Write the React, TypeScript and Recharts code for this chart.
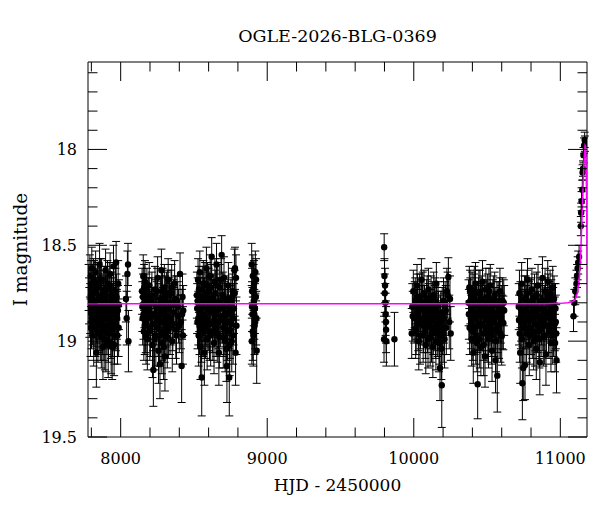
import { ErrorBar, ReferenceArea, Scatter, ScatterChart, XAxis, YAxis } from 'recharts';

// OGLE I-band photometry: [HJD - 2450000, I mag, error].
type Obs = [number, number, number];

const SEASON_1: Obs[] = [
  [7781, 18.72, 0.12], [7784, 18.79, 0.12], [7786, 18.85, 0.13], [7790, 18.66, 0.11],
  [7792, 18.83, 0.13], [7794, 18.93, 0.15], [7797, 18.7, 0.12], [7799, 18.78, 0.12],
  [7801, 18.9, 0.14], [7803, 18.62, 0.11], [7805, 18.76, 0.12], [7807, 18.88, 0.14],
  [7810, 18.84, 0.13], [7812, 18.75, 0.12], [7814, 18.68, 0.11], [7816, 18.97, 0.16],
  [7818, 18.89, 0.14], [7820, 18.69, 0.11], [7823, 18.74, 0.12], [7825, 18.82, 0.13],
  [7827, 18.93, 0.15], [7829, 18.64, 0.11], [7831, 18.8, 0.13], [7834, 19.06, 0.18],
  [7836, 18.87, 0.14], [7838, 18.79, 0.12], [7841, 18.72, 0.12], [7843, 18.91, 0.15],
  [7845, 18.96, 0.15], [7847, 18.71, 0.12], [7850, 18.78, 0.12], [7852, 18.86, 0.13],
  [7854, 18.91, 0.14], [7856, 18.6, 0.11], [7858, 18.83, 0.13], [7861, 18.95, 0.15],
  [7863, 18.69, 0.12], [7865, 18.77, 0.12], [7868, 18.98, 0.16], [7870, 18.68, 0.11],
  [7872, 18.8, 0.13], [7874, 18.89, 0.14], [7877, 18.92, 0.15], [7879, 19.03, 0.17],
  [7881, 18.75, 0.12], [7883, 18.81, 0.13], [7886, 18.95, 0.15], [7888, 18.73, 0.12],
  [7890, 18.85, 0.13], [7892, 18.99, 0.16], [7895, 18.78, 0.12], [7897, 18.63, 0.11],
  [7899, 19.0, 0.16], [7901, 18.84, 0.13], [7904, 18.73, 0.12], [7906, 18.92, 0.15],
  [7908, 18.88, 0.14], [7910, 18.7, 0.12], [7913, 18.82, 0.13], [7915, 19.02, 0.17],
  [7917, 18.96, 0.15], [7919, 18.8, 0.13], [7922, 18.71, 0.12], [7924, 18.87, 0.14],
  [7926, 18.9, 0.14], [7928, 18.65, 0.11], [7931, 18.84, 0.13], [7933, 18.94, 0.15],
  [7935, 19.01, 0.16], [7937, 18.76, 0.12], [7940, 18.79, 0.12], [7942, 19.03, 0.17],
  [7944, 18.93, 0.15], [7946, 18.83, 0.13], [7949, 18.86, 0.13], [7951, 18.61, 0.11],
  [7953, 18.74, 0.12], [7955, 19.02, 0.16], [7958, 18.97, 0.15], [7960, 18.9, 0.14],
  [7962, 18.82, 0.13], [7964, 18.74, 0.12], [7967, 18.91, 0.14], [7969, 18.59, 0.11],
  [7971, 18.77, 0.12], [7974, 18.86, 0.13], [7976, 18.88, 0.14], [7978, 18.97, 0.15],
  [7981, 18.84, 0.13], [7983, 18.7, 0.12], [7986, 18.93, 0.15], [7988, 18.81, 0.13],
  [8036, 18.78, 0.12], [8041, 18.88, 0.14], [8046, 18.65, 0.12], [8050, 18.6, 0.11],
  [8053, 19.0, 0.16],
];

const SEASON_2: Obs[] = [
  [8146, 18.74, 0.12], [8148, 18.82, 0.13], [8150, 18.88, 0.14], [8152, 18.77, 0.12],
  [8154, 18.66, 0.11], [8156, 18.86, 0.13], [8158, 18.95, 0.15], [8160, 18.72, 0.12],
  [8162, 18.8, 0.13], [8164, 18.92, 0.15], [8166, 18.69, 0.11], [8168, 18.83, 0.13],
  [8171, 18.91, 0.15], [8173, 18.97, 0.15], [8176, 18.77, 0.12], [8179, 18.74, 0.12],
  [8182, 18.99, 0.16], [8185, 18.88, 0.14], [8188, 18.84, 0.13], [8191, 18.8, 0.13],
  [8195, 18.71, 0.12], [8199, 18.95, 0.15], [8203, 18.93, 0.15], [8206, 18.86, 0.13],
  [8210, 18.79, 0.12], [8213, 18.76, 0.12], [8217, 19.02, 0.17], [8220, 18.91, 0.14],
  [8223, 19.15, 0.19], [8228, 18.86, 0.14], [8231, 18.99, 0.16], [8234, 18.73, 0.12],
  [8237, 18.81, 0.13], [8240, 18.97, 0.16], [8243, 18.88, 0.14], [8246, 18.82, 0.13],
  [8249, 18.74, 0.12], [8252, 18.67, 0.11], [8255, 18.93, 0.15], [8258, 19.05, 0.17],
  [8261, 18.83, 0.13], [8263, 18.9, 0.14], [8266, 18.97, 0.16], [8268, 19.12, 0.18],
  [8271, 18.86, 0.13], [8273, 18.78, 0.12], [8276, 18.8, 0.13], [8278, 18.63, 0.11],
  [8281, 19.01, 0.16], [8283, 18.95, 0.15], [8286, 18.74, 0.12], [8288, 18.85, 0.13],
  [8291, 18.9, 0.14], [8293, 19.03, 0.17], [8296, 18.84, 0.13], [8298, 18.72, 0.12],
  [8300, 18.96, 0.15], [8302, 19.08, 0.18], [8305, 18.78, 0.12], [8307, 18.89, 0.14],
  [8310, 18.92, 0.15], [8312, 18.76, 0.12], [8315, 18.87, 0.13], [8318, 18.98, 0.16],
  [8321, 18.75, 0.12], [8324, 18.68, 0.11], [8327, 18.94, 0.15], [8330, 18.83, 0.13],
  [8334, 18.8, 0.13], [8337, 18.92, 0.15], [8341, 18.88, 0.14], [8344, 18.75, 0.12],
  [8348, 18.72, 0.12], [8352, 19.0, 0.16], [8356, 18.91, 0.14], [8360, 18.81, 0.13],
  [8364, 18.85, 0.13], [8368, 18.7, 0.12], [8372, 18.78, 0.12], [8376, 18.94, 0.15],
  [8381, 18.97, 0.15], [8385, 18.79, 0.13], [8390, 18.82, 0.13], [8394, 18.87, 0.14],
  [8400, 18.92, 0.14], [8405, 18.65, 0.11], [8411, 18.9, 0.14], [8416, 19.13, 0.19],
  [8419, 18.86, 0.13], [8422, 18.77, 0.12], [8425, 18.97, 0.15], [8427, 18.84, 0.13],
];

const SEASON_3: Obs[] = [
  [8520, 18.76, 0.12], [8522, 18.83, 0.13], [8524, 18.9, 0.14], [8526, 18.79, 0.12],
  [8528, 18.68, 0.11], [8530, 18.88, 0.14], [8532, 18.97, 0.16], [8534, 18.73, 0.12],
  [8536, 18.82, 0.13], [8538, 18.92, 0.15], [8540, 18.64, 0.11], [8542, 18.85, 0.13],
  [8544, 19.03, 0.17], [8547, 18.77, 0.12], [8549, 18.86, 0.14], [8551, 18.96, 0.15],
  [8553, 19.19, 0.2], [8555, 18.82, 0.13], [8557, 18.73, 0.12], [8560, 18.9, 0.14],
  [8562, 18.93, 0.15], [8564, 18.7, 0.12], [8566, 18.79, 0.12], [8568, 18.87, 0.13],
  [8571, 19.06, 0.17], [8573, 18.8, 0.13], [8575, 18.7, 0.11], [8578, 18.94, 0.15],
  [8580, 18.88, 0.14], [8583, 18.76, 0.12], [8585, 18.62, 0.11], [8588, 18.89, 0.14],
  [8590, 18.99, 0.16], [8593, 18.71, 0.12], [8595, 18.84, 0.13], [8598, 18.91, 0.14],
  [8600, 18.74, 0.12], [8603, 18.83, 0.13], [8606, 18.95, 0.15], [8608, 18.78, 0.12],
  [8611, 18.66, 0.11], [8614, 18.97, 0.16], [8616, 18.81, 0.13], [8619, 18.72, 0.12],
  [8621, 18.56, 0.1], [8624, 18.85, 0.13], [8626, 18.91, 0.15], [8629, 18.95, 0.15],
  [8632, 18.77, 0.12], [8634, 18.81, 0.13], [8637, 19.01, 0.16], [8640, 18.89, 0.14],
  [8643, 18.69, 0.12], [8646, 18.75, 0.12], [8648, 18.86, 0.14], [8651, 18.93, 0.15],
  [8654, 18.6, 0.11], [8657, 18.84, 0.13], [8659, 18.96, 0.15], [8662, 18.71, 0.12],
  [8665, 18.8, 0.13], [8668, 18.9, 0.14], [8670, 19.06, 0.17], [8673, 18.98, 0.16],
  [8676, 18.72, 0.12], [8679, 18.8, 0.13], [8682, 18.89, 0.14], [8685, 18.68, 0.11],
  [8689, 18.55, 0.1], [8691, 18.87, 0.14], [8694, 18.83, 0.13], [8697, 18.76, 0.12],
  [8700, 18.98, 0.16], [8703, 18.93, 0.15], [8705, 18.67, 0.11], [8708, 18.82, 0.13],
  [8711, 18.92, 0.15], [8713, 19.0, 0.16], [8716, 18.78, 0.12], [8719, 18.86, 0.13],
  [8721, 19.04, 0.17], [8725, 19.13, 0.19], [8728, 18.95, 0.15], [8730, 18.85, 0.14],
  [8733, 18.79, 0.12], [8735, 18.71, 0.12], [8738, 18.9, 0.14], [8741, 19.19, 0.2],
  [8744, 19.02, 0.16], [8746, 18.94, 0.15], [8749, 18.84, 0.13], [8752, 18.81, 0.13],
  [8755, 18.91, 0.14], [8758, 19.0, 0.16], [8761, 18.77, 0.12], [8764, 18.74, 0.12],
  [8767, 18.97, 0.15], [8770, 18.88, 0.14], [8773, 18.83, 0.13], [8776, 18.63, 0.11],
  [8778, 18.75, 0.12], [8780, 18.62, 0.11], [8784, 19.06, 0.17], [8787, 18.67, 0.12],
  [8790, 18.92, 0.15],
];

const SEASON_4: Obs[] = [
  [8894, 18.6, 0.11], [8895, 19.0, 0.12], [8896, 18.82, 0.13], [8897, 18.74, 0.12],
  [8899, 18.86, 0.14], [8901, 18.95, 0.15], [8902, 18.66, 0.11], [8905, 18.97, 0.16],
  [8907, 18.72, 0.12], [8908, 18.79, 0.13], [8910, 18.7, 0.12], [8912, 18.86, 0.13],
  [8913, 18.92, 0.15], [8916, 18.83, 0.13], [8918, 18.9, 0.14], [8919, 18.64, 0.11],
  [8922, 18.77, 0.12], [8924, 18.68, 0.11], [8925, 18.88, 0.14], [8928, 19.05, 0.17],
];

const SEASON_5: Obs[] = [
  [9797, 18.99, 0.12], [9798, 18.51, 0.07], [9800, 18.66, 0.09], [9802, 18.75, 0.1],
  [9804, 18.71, 0.09], [9806, 18.8, 0.1], [9808, 18.86, 0.11], [9810, 18.9, 0.11],
  [9811, 18.94, 0.12], [9813, 19.0, 0.13], [9868, 18.99, 0.14],
];

const SEASON_6: Obs[] = [
  [9986, 18.96, 0.13], [9990, 18.82, 0.12], [9993, 18.87, 0.13], [9997, 18.74, 0.11],
  [10003, 18.88, 0.13], [10006, 18.81, 0.12], [10010, 18.79, 0.12], [10013, 18.95, 0.14],
  [10016, 18.93, 0.14], [10019, 18.86, 0.13], [10022, 18.71, 0.11], [10025, 18.77, 0.12],
  [10028, 18.85, 0.12], [10031, 18.91, 0.14], [10034, 19.0, 0.15], [10037, 18.83, 0.12],
  [10040, 18.77, 0.12], [10043, 18.97, 0.15], [10046, 18.9, 0.14], [10049, 18.8, 0.12],
  [10052, 18.68, 0.11], [10055, 18.89, 0.13], [10058, 18.83, 0.12], [10061, 18.76, 0.12],
  [10064, 18.97, 0.14], [10067, 18.92, 0.14], [10070, 18.75, 0.12], [10073, 18.84, 0.13],
  [10076, 18.87, 0.13], [10079, 18.95, 0.14], [10082, 19.02, 0.15], [10085, 18.88, 0.13],
  [10088, 18.8, 0.12], [10091, 18.78, 0.12], [10094, 18.92, 0.14], [10097, 18.99, 0.15],
  [10100, 18.73, 0.11], [10103, 18.82, 0.12], [10106, 18.86, 0.13], [10109, 18.9, 0.14],
  [10112, 18.98, 0.15], [10115, 18.86, 0.13], [10118, 18.78, 0.12], [10121, 18.96, 0.15],
  [10124, 18.89, 0.13], [10127, 18.81, 0.12], [10130, 19.03, 0.16], [10133, 18.93, 0.14],
  [10136, 18.76, 0.12], [10139, 18.88, 0.13], [10142, 18.84, 0.13], [10145, 18.79, 0.12],
  [10148, 18.95, 0.14], [10151, 19.0, 0.15], [10154, 18.7, 0.11], [10157, 18.85, 0.13],
  [10160, 18.91, 0.14], [10163, 18.94, 0.14], [10166, 18.81, 0.12], [10169, 18.87, 0.13],
  [10172, 19.01, 0.15], [10175, 18.97, 0.15], [10179, 19.14, 0.17], [10182, 18.9, 0.14],
  [10185, 18.87, 0.13], [10188, 19.04, 0.16], [10191, 19.23, 0.22], [10194, 18.85, 0.13],
  [10197, 18.93, 0.14], [10200, 18.96, 0.15], [10203, 18.79, 0.12], [10206, 18.88, 0.13],
  [10210, 18.99, 0.15], [10214, 18.81, 0.12], [10218, 18.84, 0.13], [10222, 18.93, 0.14],
  [10226, 18.74, 0.12], [10231, 18.76, 0.12], [10236, 18.665, 0.1], [10242, 18.9, 0.14],
  [10247, 18.78, 0.12], [10252, 18.96, 0.14],
];

const SEASON_7: Obs[] = [
  [10374, 18.8, 0.12], [10376, 18.86, 0.13], [10379, 18.72, 0.11], [10381, 18.93, 0.14],
  [10384, 18.74, 0.11], [10386, 18.79, 0.12], [10389, 18.88, 0.13], [10392, 18.9, 0.14],
  [10395, 18.99, 0.14], [10398, 18.76, 0.12], [10400, 18.83, 0.12], [10403, 18.95, 0.15],
  [10406, 19.06, 0.16], [10408, 18.85, 0.13], [10411, 18.77, 0.12], [10413, 18.73, 0.12],
  [10416, 18.93, 0.14], [10418, 18.88, 0.13], [10421, 18.7, 0.11], [10423, 18.97, 0.15],
  [10426, 18.86, 0.13], [10429, 18.81, 0.12], [10431, 19.01, 0.15], [10434, 18.92, 0.14],
  [10436, 19.225, 0.18], [10439, 18.86, 0.13], [10441, 18.79, 0.12], [10444, 18.75, 0.12],
  [10447, 18.91, 0.14], [10450, 18.99, 0.15], [10452, 18.75, 0.12], [10455, 18.83, 0.13],
  [10458, 19.03, 0.15], [10461, 18.91, 0.14], [10463, 18.84, 0.13], [10466, 18.78, 0.12],
  [10469, 18.69, 0.11], [10472, 18.87, 0.13], [10474, 18.96, 0.14], [10477, 19.02, 0.16],
  [10480, 18.81, 0.12], [10483, 18.84, 0.13], [10486, 19.08, 0.16], [10489, 18.93, 0.14],
  [10492, 18.73, 0.11], [10495, 18.8, 0.12], [10498, 18.89, 0.13], [10501, 18.96, 0.15],
  [10504, 18.77, 0.12], [10507, 18.86, 0.13], [10510, 18.99, 0.15], [10513, 18.74, 0.12],
  [10516, 18.85, 0.13], [10519, 18.91, 0.14], [10522, 18.71, 0.11], [10525, 18.83, 0.13],
  [10528, 18.94, 0.14], [10531, 18.97, 0.15], [10534, 19.05, 0.16], [10537, 18.88, 0.13],
  [10540, 18.8, 0.12], [10543, 18.78, 0.12], [10546, 18.9, 0.14], [10549, 18.94, 0.14],
  [10552, 18.76, 0.12], [10555, 18.85, 0.13], [10558, 19.1, 0.17], [10561, 19.0, 0.16],
  [10564, 18.87, 0.13], [10567, 18.81, 0.12], [10570, 19.18, 0.19], [10573, 18.92, 0.14],
  [10576, 18.82, 0.13], [10579, 18.87, 0.13], [10582, 18.95, 0.14], [10585, 18.79, 0.12],
  [10588, 18.74, 0.12], [10591, 18.96, 0.15], [10594, 18.88, 0.13], [10597, 18.84, 0.13],
  [10600, 18.975, 0.15], [10603, 18.9, 0.14], [10606, 18.79, 0.12], [10611, 18.905, 0.14],
  [10614, 18.8, 0.12], [10617, 18.84, 0.13],
];

const SEASON_8: Obs[] = [
  [10716, 18.82, 0.12], [10718, 18.89, 0.13], [10721, 18.75, 0.12], [10723, 18.96, 0.15],
  [10726, 19.06, 0.16], [10728, 18.81, 0.12], [10731, 18.9, 0.14], [10733, 18.87, 0.13],
  [10736, 18.7, 0.11], [10738, 18.99, 0.15], [10741, 19.22, 0.19], [10744, 18.84, 0.13],
  [10747, 19.14, 0.17], [10750, 18.93, 0.14], [10752, 18.86, 0.13], [10755, 18.78, 0.12],
  [10759, 19.125, 0.18], [10761, 18.9, 0.14], [10764, 18.78, 0.12], [10767, 18.84, 0.13],
  [10770, 18.96, 0.15], [10773, 18.75, 0.12], [10776, 18.68, 0.11], [10779, 18.93, 0.14],
  [10782, 18.88, 0.13], [10785, 18.81, 0.12], [10788, 19.02, 0.16], [10791, 18.97, 0.15],
  [10794, 18.8, 0.12], [10797, 18.86, 0.13], [10800, 18.93, 0.14], [10803, 18.79, 0.12],
  [10806, 18.73, 0.11], [10809, 18.95, 0.14], [10812, 18.85, 0.13], [10815, 18.88, 0.13],
  [10818, 19.0, 0.15], [10821, 18.82, 0.12], [10824, 18.77, 0.12], [10827, 18.98, 0.15],
  [10830, 18.91, 0.14], [10833, 18.85, 0.13], [10836, 19.04, 0.16], [10839, 18.76, 0.12],
  [10842, 18.83, 0.13], [10845, 18.92, 0.14], [10848, 18.71, 0.11], [10851, 18.87, 0.13],
  [10854, 18.95, 0.14], [10857, 18.99, 0.15], [10860, 19.11, 0.17], [10863, 18.83, 0.13],
  [10866, 18.79, 0.12], [10869, 18.94, 0.14], [10872, 18.89, 0.13], [10875, 18.8, 0.12],
  [10878, 18.67, 0.11], [10881, 18.91, 0.14], [10884, 18.98, 0.15], [10887, 18.86, 0.13],
  [10890, 18.84, 0.13], [10893, 18.97, 0.15], [10896, 18.74, 0.12], [10899, 18.79, 0.12],
  [10902, 19.07, 0.16], [10905, 18.92, 0.14], [10908, 18.87, 0.13], [10911, 18.85, 0.13],
  [10914, 18.69, 0.11], [10917, 18.77, 0.12], [10920, 18.92, 0.14], [10923, 18.95, 0.14],
  [10926, 18.81, 0.12], [10930, 18.75, 0.12], [10933, 18.88, 0.13], [10936, 19.01, 0.15],
  [10939, 18.8, 0.12], [10942, 18.86, 0.13], [10945, 18.97, 0.15], [10948, 18.72, 0.11],
  [10951, 18.85, 0.13], [10954, 18.94, 0.14], [10957, 18.78, 0.12], [10959, 18.83, 0.13],
  [10962, 18.91, 0.14], [10964, 19.01, 0.15], [10967, 18.83, 0.13], [10969, 18.9, 0.14],
  [10972, 18.96, 0.15], [10974, 19.1, 0.17],
];

// 2026 season: the rising part of the event
const SEASON_9: Obs[] = [
  [11090, 18.87, 0.08], [11096, 18.8, 0.07], [11102, 18.74, 0.07], [11110, 18.7, 0.07],
  [11114, 18.66, 0.06], [11118, 18.62, 0.06], [11122, 18.59, 0.06], [11128, 18.56, 0.06],
  [11140, 18.4, 0.05], [11142, 18.33, 0.05], [11145, 18.27, 0.05], [11150, 18.21, 0.05],
  [11152, 18.12, 0.04], [11155, 18.1, 0.04], [11158, 18.03, 0.04], [11162, 17.98, 0.04],
  [11166, 17.95, 0.04], [11168, 17.97, 0.04],
];

// microlensing model curve: [HJD - 2450000, I mag]
const MODEL: [number, number][] = [
  [7777, 18.805], [10900, 18.805], [11000, 18.803], [11050, 18.8], [11080, 18.795],
  [11100, 18.785], [11116, 18.75], [11128, 18.68], [11137, 18.58], [11146, 18.4],
  [11152, 18.27], [11157, 18.16], [11164, 18.03], [11169, 17.98], [11172, 17.985],
  [11176, 18.08], [11179, 18.25], [11182, 18.5], [11186, 18.75],
];

const X_TICKS = [
  7800, 8000, 8200, 8400, 8600, 8800, 9000, 9200, 9400, 9600, 9800,
  10000, 10200, 10400, 10600, 10800, 11000,
];
const X_LABELED = [8000, 9000, 10000, 11000];
const Y_TICKS = [
  17.6, 17.7, 17.8, 17.9, 18, 18.1, 18.2, 18.3, 18.4, 18.5,
  18.6, 18.7, 18.8, 18.9, 19, 19.1, 19.2, 19.3, 19.4, 19.5,
];
const Y_LABELED = [18, 18.5, 19, 19.5];

const POINTS = [
  ...SEASON_1, ...SEASON_2, ...SEASON_3, ...SEASON_4, ...SEASON_5,
  ...SEASON_6, ...SEASON_7, ...SEASON_8, ...SEASON_9,
].map(([hjd, mag, err]) => ({ hjd, mag, err }));
const CURVE = MODEL.map(([hjd, mag]) => ({ hjd, mag }));

const X_DOMAIN = [7777, 11182];
const Y_DOMAIN = [17.544, 19.5];

const W = 600;
const H = 512;
const TOP = 62;
const LEFT = 88;
const RIGHT = 587;
const BOTTOM = 437;
const MAJOR = 19;
const MINOR = 9.5;
const FONT = '"DejaVu Serif", serif';
const INK = '#000';

function XTick(props: any) {
  const { x, payload } = props;
  const v = payload.value;
  const major = X_LABELED.includes(v);
  const len = major ? MAJOR : MINOR;
  return (
    <g>
      <line x1={x} y1={BOTTOM} x2={x} y2={BOTTOM - len} stroke={INK} />
      <line x1={x} y1={TOP} x2={x} y2={TOP + len} stroke={INK} />
      {major && (
        <text x={x} y={BOTTOM + 26.5} textAnchor="middle" fontSize={16} fontFamily={FONT} fill={INK}>
          {v}
        </text>
      )}
    </g>
  );
}

function YTick(props: any) {
  const { y, payload } = props;
  const v = payload.value;
  const major = Y_LABELED.some((m) => Math.abs(m - v) < 1e-6);
  const len = major ? MAJOR : MINOR;
  return (
    <g>
      <line x1={LEFT} y1={y} x2={LEFT + len} y2={y} stroke={INK} />
      <line x1={RIGHT} y1={y} x2={RIGHT - len} y2={y} stroke={INK} />
      {major && (
        <text x={LEFT - 11} y={y} dy="0.36em" textAnchor="end" fontSize={16} fontFamily={FONT} fill={INK}>
          {String(v)}
        </text>
      )}
    </g>
  );
}

const Dot = (props: any) => <circle cx={props.cx} cy={props.cy} r={3.2} fill={INK} />;
const NoDot = () => <g />;

export default function App() {
  return (
    <div style={{ position: 'absolute', left: 0, top: 0, width: W, height: H, background: '#fff' }}>
      <ScatterChart
        width={W}
        height={H}
        margin={{ top: TOP, right: W - RIGHT, bottom: H - BOTTOM - 30, left: LEFT - 60 }}
      >
        <XAxis
          type="number"
          dataKey="hjd"
          domain={X_DOMAIN}
          allowDataOverflow
          ticks={X_TICKS}
          interval={0}
          tick={XTick}
          tickLine={false}
          axisLine={false}
          tickSize={0}
          tickMargin={0}
          height={30}
        />
        <YAxis
          type="number"
          dataKey="mag"
          domain={Y_DOMAIN}
          reversed
          allowDataOverflow
          ticks={Y_TICKS}
          interval={0}
          tick={YTick}
          tickLine={false}
          axisLine={false}
          tickSize={0}
          tickMargin={0}
          width={60}
        />
        <ReferenceArea
          x1={X_DOMAIN[0]}
          x2={X_DOMAIN[1]}
          y1={Y_DOMAIN[0]}
          y2={Y_DOMAIN[1]}
          fill="none"
          stroke={INK}
          strokeWidth={1}
          ifOverflow="visible"
        />
        <Scatter data={POINTS} shape={Dot} isAnimationActive={false}>
          <ErrorBar dataKey="err" direction="y" width={4} stroke={INK} strokeWidth={1} />
        </Scatter>
        <Scatter
          data={CURVE}
          shape={NoDot}
          line={{ stroke: '#ff00ff', strokeWidth: 1.5 }}
          lineType="joint"
          isAnimationActive={false}
        />
      </ScatterChart>
      <svg
        width={W}
        height={H}
        style={{ position: 'absolute', left: 0, top: 0, pointerEvents: 'none' }}
      >
        <text x={(LEFT + RIGHT) / 2} y={41.5} textAnchor="middle" fontSize={17.5} fontFamily={FONT} fill={INK}>
          OGLE-2026-BLG-0369
        </text>
        <text x={(LEFT + RIGHT) / 2} y={491} textAnchor="middle" fontSize={17} fontFamily={FONT} fill={INK}>
          HJD - 2450000
        </text>
        <text
          x={26.5}
          y={(TOP + BOTTOM) / 2}
          textAnchor="middle"
          fontSize={18.5}
          fontFamily={FONT}
          fill={INK}
          transform={`rotate(-90, 26.5, ${(TOP + BOTTOM) / 2})`}
        >
          I magnitude
        </text>
      </svg>
    </div>
  );
}
